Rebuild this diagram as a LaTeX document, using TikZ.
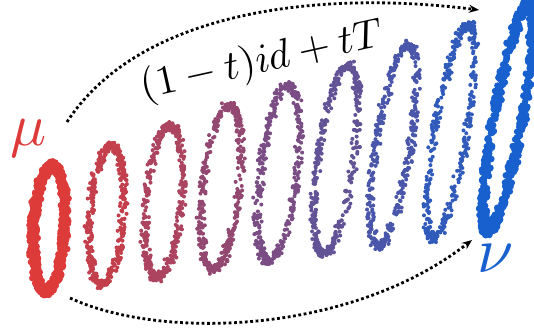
\documentclass[tikz,border=0pt]{standalone}
\usetikzlibrary{arrows.meta}
\definecolor{srcred}{RGB}{221,58,58}
\definecolor{tgtblue}{RGB}{24,96,206}

\begin{document}
\begin{tikzpicture}[x=1pt,y=-1pt,
    flow/.style={line width=2.8pt,dash pattern=on 2.8pt off 2.6pt,
                 -{Stealth[length=10pt,width=8pt]}},
    lbl/.style={inner sep=0pt,anchor=base}]
  \useasboundingbox (0,0) rectangle (534,331);
  \begin{scope}
    \clip (0,0) rectangle (534,331);
    \pgfmathsetseed{11}
    % point clouds, from mu (t=0) to nu (t=1)
    \foreach \k in {0,...,8}{
      \pgfmathsetmacro\t{\k/8}
      \pgfmathsetmacro\pct{100*\t}
      \colorlet{cloud}{tgtblue!\pct!srcred}
      \pgfmathsetmacro\cx{49+459*\t}
      \pgfmathsetmacro\cy{229-111*\t}
      \pgfmathsetmacro\ra{15.5-1*\t+14*\t*(1-\t)}
      \pgfmathsetmacro\rb{63+50*\t}
      \pgfmathsetmacro\sh{0.05+0.13*\t}
      \pgfmathtruncatemacro\npts{(\k==0||\k==8) ? 850 : 440}
      \pgfmathsetmacro\rdot{(\k==0||\k==8) ? 3.3 : 2.0}
      \foreach \i in {1,...,\npts}{
        \pgfmathsetmacro\th{360*rnd}
        \pgfmathsetmacro\px{\cx+\ra*cos(\th)+\sh*\rb*sin(\th)+2.5*(rand+rand)}
        \pgfmathsetmacro\py{\cy-\rb*sin(\th)+2.5*(rand+rand)}
        \fill[cloud] (\px,\py) circle[radius=\rdot];
      }
    }
  \end{scope}

  \node[lbl,text=srcred,scale=6] (mu) at (29,146) {$\mu$};
  \node[lbl,text=tgtblue,scale=6.5] (nu) at (496,272) {$\nu$};
  \node[scale=4.1,rotate=12.5] (map) at (262,62) {$(1-t)id+tT$};

  \coordinate (srctop) at (67,122);
  \coordinate (srcbot) at (70,298);
  \coordinate (tgttop) at (479,10);
  \coordinate (tgtbot) at (472,240);
  \draw[flow] (srctop) .. controls (140,10) and (320,-10) .. (tgttop);
  \draw[flow] (srcbot) .. controls (160,340) and (350,335) .. (tgtbot);
\end{tikzpicture}
\end{document}
